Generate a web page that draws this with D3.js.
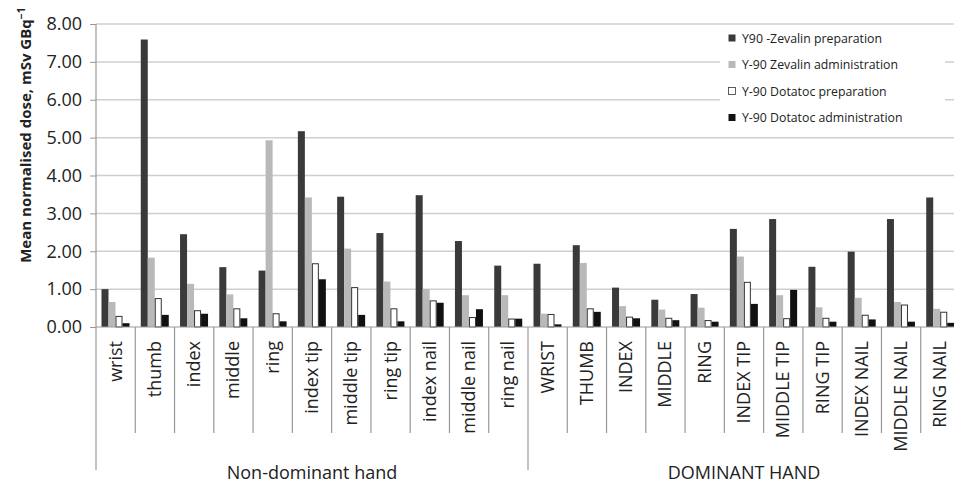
<!DOCTYPE html>
<html><head><meta charset="utf-8">
<script src="https://cdn.jsdelivr.net/npm/d3@7"></script>
<style>body{margin:0;background:#fff}svg{display:block;font-family:"Open Sans",sans-serif}</style>
</head><body><svg id="c" width="954" height="483"></svg>
<script>
const categories = ["wrist","thumb","index","middle","ring","index tip","middle tip","ring tip","index nail","middle nail","ring nail",
  "WRIST","THUMB","INDEX","MIDDLE","RING","INDEX TIP","MIDDLE TIP","RING TIP","INDEX NAIL","MIDDLE NAIL","RING NAIL"];
const groups = ["Non-dominant hand","DOMINANT HAND"];
const groupSizes = [11,11];
const seriesNames = ["Y90 -Zevalin preparation","Y-90 Zevalin administration","Y-90 Dotatoc preparation","Y-90 Dotatoc administration"];
const zevalinPrep = [1.00,7.59,2.45,1.58,1.49,5.17,3.44,2.48,3.48,2.27,1.62, 1.67,2.16,1.04,0.72,0.87,2.59,2.85,1.59,1.99,2.85,3.42];
const zevalinAdmin = [0.66,1.83,1.14,0.86,4.93,3.42,2.07,1.20,1.00,0.84,0.84, 0.35,1.69,0.55,0.46,0.51,1.86,0.84,0.52,0.77,0.66,0.48];
const dotatocPrep = [0.28,0.75,0.43,0.48,0.35,1.67,1.04,0.48,0.69,0.25,0.21, 0.33,0.48,0.26,0.23,0.17,1.18,0.22,0.23,0.31,0.58,0.39];
const dotatocAdmin = [0.10,0.32,0.35,0.23,0.15,1.26,0.32,0.15,0.64,0.47,0.22, 0.07,0.40,0.23,0.18,0.14,0.61,0.98,0.14,0.20,0.14,0.11];
const yTicks = [0,1,2,3,4,5,6,7,8];
const series = [zevalinPrep, zevalinAdmin, dotatocPrep, dotatocAdmin];
const fills = ["#3a3a3a","#b9b9b9","#ffffff","#111111"];
const strokes = ["none","none","#333","none"];

const svg = d3.select("#c");
const pL = 96, pR = 960, pT = 24, pB = 327;
const x = d3.scaleBand().domain(categories).range([pL,pR]).padding(0);
const xs = d3.scaleBand().domain(d3.range(4)).range([5.5,33.5]).padding(0);
const y = d3.scaleLinear().domain([0,8]).range([pB,pT]);

// gridlines
svg.append("g").selectAll("line").data(yTicks.filter(d=>d>0)).join("line")
  .attr("x1",pL).attr("x2",pR).attr("y1",d=>y(d)).attr("y2",d=>y(d))
  .attr("stroke","#cfcfcf").attr("stroke-width",1.5);

// y axis
const ya = svg.append("g").attr("transform",`translate(${pL},0)`)
  .call(d3.axisLeft(y).tickValues(yTicks).tickFormat(d3.format(".2f")).tickSize(6).tickPadding(8));
ya.select(".domain").remove();
ya.selectAll(".tick line").attr("stroke","#999");
ya.selectAll(".tick text").attr("font-size",18).attr("fill","#222").attr("font-family","'Open Sans',sans-serif");
svg.append("line").attr("x1",pL).attr("x2",pL).attr("y1",y(8)).attr("y2",470).attr("stroke","#999").attr("stroke-width",1.2);

// bars
series.forEach((s,si)=>{
  svg.append("g").selectAll("rect").data(s).join("rect")
    .attr("x",(d,i)=>x(categories[i])+xs(si)+(si===2?0.5:0))
    .attr("width",xs.bandwidth()-(si===2?1:0))
    .attr("y",d=>y(d)).attr("height",d=>y(0)-y(d))
    .attr("fill",fills[si]).attr("stroke",strokes[si]).attr("stroke-width",1);
});

// baseline
svg.append("line").attr("x1",pL).attr("x2",pR).attr("y1",pB).attr("y2",pB).attr("stroke","#999").attr("stroke-width",1.2);

// category separators
const bounds = categories.map(c=>x(c)).concat([pR]);
let gStarts = [0]; groupSizes.forEach((n,i)=>gStarts.push(gStarts[i]+n));
svg.append("g").selectAll("line").data(bounds.slice(1)).join("line")
  .attr("x1",d=>d).attr("x2",d=>d).attr("y1",pB).attr("y2",(d,i)=>gStarts.includes(i+1)?470:433)
  .attr("stroke","#999").attr("stroke-width",1.2);

// category labels
svg.append("g").selectAll("text").data(categories).join("text")
  .attr("transform",d=>`translate(${x(d)+x.bandwidth()/2+6},341) rotate(-90)`)
  .attr("text-anchor","end").attr("font-size",18).attr("fill","#222").text(d=>d);

// group labels
svg.append("g").selectAll("text").data(groups).join("text")
  .attr("x",(d,i)=>(bounds[gStarts[i]]+bounds[gStarts[i+1]])/2).attr("y",479)
  .attr("text-anchor","middle").attr("font-size",18).attr("fill","#222").text(d=>d);

// y title
const yt = svg.append("text").attr("transform","translate(31,135) rotate(-90)")
  .attr("text-anchor","middle").attr("font-size",15).attr("font-weight","bold").attr("fill","#222");
yt.append("tspan").text("Mean normalised dose, mSv GBq");
yt.append("tspan").attr("dy",-6).attr("font-size",10.5).text("−1");

// legend
const lg = svg.append("g");
lg.append("rect").attr("x",720).attr("y",27).attr("width",225).attr("height",106).attr("fill","#fff");
seriesNames.forEach((n,i)=>{
  const yy = 38 + i*26.5;
  lg.append("rect").attr("x",728.5).attr("y",yy-3.5).attr("width",7).attr("height",7)
    .attr("fill",fills[i]).attr("stroke",i===2?"#333":"none").attr("stroke-width",0.8);
  lg.append("text").attr("x",742).attr("y",yy+4.5).attr("font-size",12.3).attr("fill","#222").text(n);
});
</script></body></html>
